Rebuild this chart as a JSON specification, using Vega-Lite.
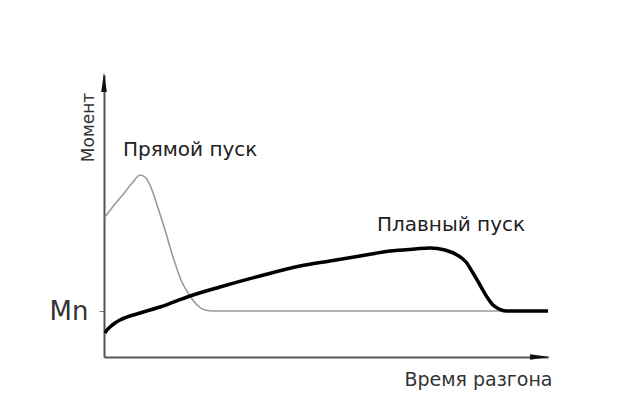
{
  "$schema": "https://vega.github.io/schema/vega-lite/v6.json",
  "width": 444,
  "height": 282,
  "autosize": "none",
  "padding": {"left": 104, "top": 75, "right": 79, "bottom": 63},
  "background": "white",
  "config": {"view": {"stroke": null}, "font": "DejaVu Sans"},
  "datasets": {
    "curves": [
      {"series": "Прямой пуск", "t": 1, "m": 140},
      {"series": "Прямой пуск", "t": 11, "m": 153},
      {"series": "Прямой пуск", "t": 21, "m": 165},
      {"series": "Прямой пуск", "t": 29, "m": 175},
      {"series": "Прямой пуск", "t": 36, "m": 182},
      {"series": "Прямой пуск", "t": 42, "m": 179},
      {"series": "Прямой пуск", "t": 48, "m": 167},
      {"series": "Прямой пуск", "t": 54, "m": 149},
      {"series": "Прямой пуск", "t": 61, "m": 127},
      {"series": "Прямой пуск", "t": 69, "m": 100},
      {"series": "Прямой пуск", "t": 77, "m": 77},
      {"series": "Прямой пуск", "t": 86, "m": 61},
      {"series": "Прямой пуск", "t": 93, "m": 52},
      {"series": "Прямой пуск", "t": 101, "m": 47},
      {"series": "Прямой пуск", "t": 109, "m": 46},
      {"series": "Прямой пуск", "t": 444, "m": 46},
      {"series": "Плавный пуск", "t": 1, "m": 24},
      {"series": "Плавный пуск", "t": 3, "m": 27},
      {"series": "Плавный пуск", "t": 6, "m": 30},
      {"series": "Плавный пуск", "t": 11, "m": 34},
      {"series": "Плавный пуск", "t": 16, "m": 37},
      {"series": "Плавный пуск", "t": 36, "m": 44},
      {"series": "Плавный пуск", "t": 56, "m": 50},
      {"series": "Плавный пуск", "t": 86, "m": 61},
      {"series": "Плавный пуск", "t": 116, "m": 70},
      {"series": "Плавный пуск", "t": 156, "m": 81},
      {"series": "Плавный пуск", "t": 196, "m": 91},
      {"series": "Плавный пуск", "t": 226, "m": 96},
      {"series": "Плавный пуск", "t": 256, "m": 101},
      {"series": "Плавный пуск", "t": 286, "m": 106},
      {"series": "Плавный пуск", "t": 311, "m": 108},
      {"series": "Плавный пуск", "t": 326, "m": 109},
      {"series": "Плавный пуск", "t": 341, "m": 107},
      {"series": "Плавный пуск", "t": 353, "m": 102},
      {"series": "Плавный пуск", "t": 362, "m": 95},
      {"series": "Плавный пуск", "t": 369, "m": 84},
      {"series": "Плавный пуск", "t": 376, "m": 72},
      {"series": "Плавный пуск", "t": 383, "m": 60},
      {"series": "Плавный пуск", "t": 389, "m": 52},
      {"series": "Плавный пуск", "t": 395, "m": 48},
      {"series": "Плавный пуск", "t": 402, "m": 46},
      {"series": "Плавный пуск", "t": 416, "m": 46},
      {"series": "Плавный пуск", "t": 444, "m": 46}
    ],
    "labels": [
      {"label": "Прямой пуск", "t": 19, "m": 201},
      {"label": "Плавный пуск", "t": 273, "m": 126}
    ]
  },
  "layer": [
    {
      "data": {"name": "curves"},
      "transform": [{"filter": "datum.series === 'Прямой пуск'"}],
      "mark": {"type": "line", "color": "#9a9a9a", "strokeWidth": 1.6, "interpolate": "monotone", "clip": false},
      "encoding": {
        "x": {
          "field": "t", "type": "quantitative",
          "scale": {"domain": [0, 444], "nice": false, "zero": false},
          "axis": {
            "title": "Время разгона", "labels": false, "ticks": false, "grid": false,
            "domainColor": "#555", "domainWidth": 2,
            "titleFont": "DejaVu Sans", "titleFontSize": 19, "titleFontWeight": "normal", "titleColor": "#333",
            "titleAnchor": null, "titleAlign": "right", "titleBaseline": "alphabetic",
            "titleX": 448, "titleY": 28
          }
        },
        "y": {
          "field": "m", "type": "quantitative",
          "scale": {"domain": [0, 282], "nice": false, "zero": false},
          "axis": {
            "title": "Момент", "values": [46], "labelExpr": "'Mn'", "grid": false,
            "domainColor": "#555", "domainWidth": 2,
            "tickColor": "#777", "tickSize": 5, "tickWidth": 1,
            "labelFont": "DejaVu Sans", "labelFontSize": 26, "labelColor": "#333", "labelPadding": 11,
            "titleFont": "DejaVu Sans", "titleFontSize": 17, "titleFontWeight": "normal", "titleColor": "#333",
            "titleAnchor": null, "titleAlign": "center", "titleBaseline": "alphabetic", "titleAngle": -90,
            "titleX": -11, "titleY": 52
          }
        }
      }
    },
    {
      "data": {"name": "curves"},
      "transform": [{"filter": "datum.series === 'Плавный пуск'"}],
      "mark": {"type": "line", "color": "#000000", "strokeWidth": 3.5, "interpolate": "monotone", "clip": false},
      "encoding": {
        "x": {"field": "t", "type": "quantitative"},
        "y": {"field": "m", "type": "quantitative"}
      }
    },
    {
      "data": {"name": "labels"},
      "mark": {"type": "text", "align": "left", "baseline": "alphabetic", "font": "DejaVu Sans", "fontSize": 20, "color": "#222"},
      "encoding": {
        "x": {"field": "t", "type": "quantitative"},
        "y": {"field": "m", "type": "quantitative"},
        "text": {"field": "label"}
      }
    },
    {
      "data": {"values": [{"t": 436, "m": 0}]},
      "mark": {"type": "point", "shape": "M -1 -0.28 L 1 0 L -1 0.28 Z", "size": 400, "filled": true, "color": "#111", "opacity": 1},
      "encoding": {
        "x": {"field": "t", "type": "quantitative"},
        "y": {"field": "m", "type": "quantitative"}
      }
    },
    {
      "data": {"values": [{"t": 0, "m": 275}]},
      "mark": {"type": "point", "shape": "M -0.28 1 L 0 -1 L 0.28 1 Z", "size": 400, "filled": true, "color": "#111", "opacity": 1},
      "encoding": {
        "x": {"field": "t", "type": "quantitative"},
        "y": {"field": "m", "type": "quantitative"}
      }
    }
  ]
}
